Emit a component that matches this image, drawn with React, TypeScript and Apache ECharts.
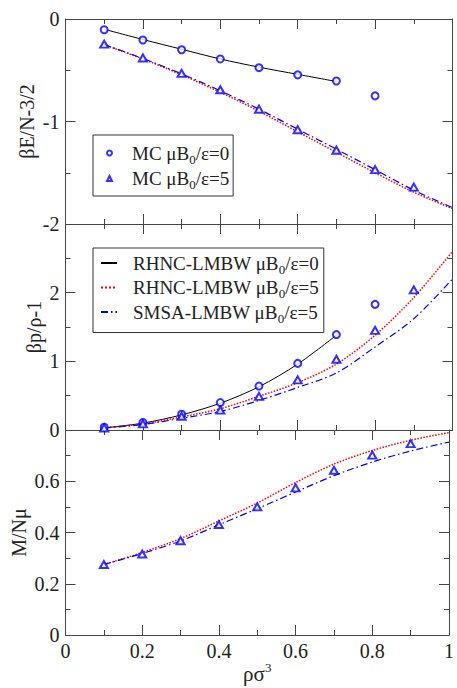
import React, { useEffect, useRef } from 'react';
import * as echarts from 'echarts';

// x positions (rho sigma^3)
const xs = [0.1, 0.2, 0.3, 0.4, 0.5, 0.6, 0.7, 0.8, 0.9, 1.0];

// Panel 1: beta E / N - 3/2
const topRhnc0 = [-0.10, -0.20, -0.295, -0.39, -0.47, -0.54, -0.61];
const topRhnc5 = [-0.25, -0.39, -0.545, -0.715, -0.90, -1.10, -1.30, -1.50, -1.69, -1.85];
const topSmsa5 = [-0.25, -0.385, -0.535, -0.70, -0.88, -1.075, -1.27, -1.47, -1.67, -1.84];
const topMc0 = [-0.105, -0.205, -0.30, -0.39, -0.475, -0.545, -0.605, -0.75];
const topMc5 = [-0.245, -0.38, -0.53, -0.69, -0.88, -1.08, -1.28, -1.47, -1.64];

// Panel 2: beta p / rho - 1
const midRhnc0 = [0.03, 0.10, 0.22, 0.39, 0.63, 0.96, 1.38];
const midRhnc5 = [0.03, 0.09, 0.19, 0.31, 0.49, 0.69, 0.96, 1.38, 1.93, 2.60];
const midSmsa5 = [0.03, 0.08, 0.17, 0.27, 0.43, 0.62, 0.83, 1.21, 1.62, 2.20];
const midMc0 = [0.04, 0.11, 0.23, 0.40, 0.64, 0.97, 1.39, 1.83];
const midMc5 = [0.03, 0.09, 0.20, 0.29, 0.49, 0.73, 1.03, 1.45, 2.04];

// Panel 3: M / N mu
const botRhnc5 = [0.275, 0.322, 0.376, 0.445, 0.515, 0.595, 0.667, 0.72, 0.76, 0.79];
const botSmsa5 = [0.275, 0.318, 0.367, 0.43, 0.493, 0.558, 0.622, 0.675, 0.718, 0.753];
const botMc5 = [0.275, 0.316, 0.368, 0.431, 0.50, 0.574, 0.643, 0.702, 0.747];

// Tick labels
const xTickLabels = ['0', '0.2', '0.4', '0.6', '0.8', '1'];
const topYLabels = ['-2', '-1', '0'];
const midYLabels = ['0', '1', '2', ''];
const botYLabels = ['0', '0.2', '0.4', '0.6', ''];

// Axis titles
const yTitles = ['βE/N-3/2', 'βp/ρ-1', 'M/Nμ'];

const NAME_MC0 = 'MC μB0/ε=0';
const NAME_MC5 = 'MC μB0/ε=5';
const NAME_R0 = 'RHNC-LMBW μB0/ε=0';
const NAME_R5 = 'RHNC-LMBW μB0/ε=5';
const NAME_S5 = 'SMSA-LMBW μB0/ε=5';

const FONT = 'Liberation Serif';
const AX = '#444';
const BLUE = '#0000ff';
const RED = '#ff0000';

const pairs = (ys: number[]) => ys.map((y, i) => [xs[i], y]);

export default function App() {
  const ref = useRef<HTMLDivElement>(null);
  useEffect(() => {
    const chart = echarts.init(ref.current!, null, { renderer: 'svg' });

    const grids = [
      { left: 65.5, width: 387, top: 19, height: 205 },
      { left: 65.5, width: 387, top: 224, height: 206 },
      { left: 65.5, width: 387, top: 430, height: 205 },
    ];

    const xAx = (g: number, position: string, showLabel: boolean) => ({
      type: 'value',
      gridIndex: g,
      position,
      min: 0,
      max: 1,
      interval: 0.2,
      axisLine: { show: true, onZero: false, lineStyle: { color: AX, width: 1 } },
      axisTick: { show: true, inside: true, length: 10, lineStyle: { color: AX } },
      minorTick: { show: true, splitNumber: 2, length: 5, lineStyle: { color: AX } },
      splitLine: { show: false },
      minorSplitLine: { show: false },
      axisLabel: {
        show: showLabel,
        margin: 6,
        fontFamily: FONT,
        fontSize: 20,
        color: '#222',
        formatter: (v: number) => xTickLabels[Math.round(v / 0.2)] ?? '',
      },
      ...(showLabel
        ? {
            name: 'ρσ{p|3}',
            nameLocation: 'middle',
            nameGap: 26,
            nameMoveOverlap: false,
            nameTextStyle: {
              fontFamily: FONT,
              fontSize: 21,
              color: '#222',
              rich: { p: { fontFamily: FONT, fontSize: 13, color: '#222', padding: [0, 0, 12, 0] } },
            },
          }
        : {}),
    });

    const yAx = (
      g: number,
      position: string,
      min: number,
      max: number,
      interval: number,
      labels: string[] | null
    ) => ({
      type: 'value',
      gridIndex: g,
      position,
      min,
      max,
      interval,
      axisLine: { show: true, onZero: false, lineStyle: { color: AX, width: 1 } },
      axisTick: { show: true, inside: true, length: 10, lineStyle: { color: AX } },
      minorTick: { show: true, splitNumber: 2, length: 5, lineStyle: { color: AX } },
      splitLine: { show: false },
      minorSplitLine: { show: false },
      axisLabel: {
        show: !!labels,
        margin: 6,
        fontFamily: FONT,
        fontSize: 20,
        color: '#222',
        formatter: (v: number) => (labels ? labels[Math.round((v - min) / interval)] ?? '' : ''),
      },
    });

    const lineS = (name: string, g: number, ys: number[], color: string, type: any, width: number) => ({
      name,
      type: 'line',
      xAxisIndex: g,
      yAxisIndex: g,
      data: pairs(ys),
      smooth: 0.3,
      symbol: 'none',
      showSymbol: false,
      lineStyle: { color, type, width },
      itemStyle: { color },
      z: 2,
    });

    const scatS = (name: string, g: number, ys: number[], symbol: string, size: any) => ({
      name,
      type: 'scatter',
      xAxisIndex: g,
      yAxisIndex: g,
      data: pairs(ys),
      symbol,
      symbolSize: size,
      itemStyle: { color: BLUE, borderColor: BLUE, borderWidth: 1 },
      z: 3,
    });

    const DASHDOT = [7, 3, 1.5, 3];

    const legendText = {
      fontFamily: FONT,
      fontSize: 19,
      lineHeight: 24,
      color: '#222',
      rich: {
        s: { fontFamily: FONT, fontSize: 13, color: '#222', padding: [12, 0, 0, 0] },
      },
    };
    const fmt = (n: string) => n.replace('B0', 'B{s|0}');

    // y-axis titles, centred on each panel
    const titleX = [27, 34, 19];
    const graphic = yTitles.map((t, i) => ({
      type: 'text',
      x: titleX[i],
      y: grids[i].top + grids[i].height / 2,
      rotation: Math.PI / 2,
      style: {
        text: t,
        fontFamily: FONT,
        fontSize: 20,
        fill: '#222',
        align: 'center',
        verticalAlign: 'middle',
      },
    }));

    const option: any = {
      animation: false,
      backgroundColor: '#fff',
      grid: grids,
      graphic,
      xAxis: [
        xAx(0, 'bottom', false),
        xAx(1, 'bottom', false),
        xAx(2, 'bottom', true),
        xAx(0, 'top', false),
        xAx(1, 'top', false),
        xAx(2, 'top', false),
      ],
      yAxis: [
        yAx(0, 'left', -2, 0, 1, topYLabels),
        yAx(1, 'left', 0, 3, 1, midYLabels),
        yAx(2, 'left', 0, 0.8, 0.2, botYLabels),
        yAx(0, 'right', -2, 0, 1, null),
        yAx(1, 'right', 0, 3, 1, null),
        yAx(2, 'right', 0, 0.8, 0.2, null),
      ],
      legend: [
        {
          data: [
            { name: NAME_MC0, icon: 'emptyCircle' },
            { name: NAME_MC5, icon: 'emptyTriangle' },
          ],
          orient: 'vertical',
          left: 93,
          top: 135,
          padding: [6, 4, 5, 13],
          itemGap: 1,
          itemWidth: 5,
          itemHeight: 5,
          borderColor: '#333',
          borderWidth: 1,
          selectedMode: false,
          formatter: fmt,
          textStyle: { ...legendText, padding: [0, 0, 0, 15] },
        },
        {
          data: [NAME_R0, NAME_R5, NAME_S5],
          orient: 'vertical',
          left: 93,
          top: 248,
          padding: [3, 5, 8, 7],
          itemGap: 0,
          itemWidth: 16,
          itemHeight: 8,
          borderColor: '#333',
          borderWidth: 1,
          selectedMode: false,
          itemStyle: { opacity: 0 },
          formatter: fmt,
          textStyle: { ...legendText, padding: [0, 0, 0, 11] },
        },
      ],
      series: [
        lineS(NAME_R0, 0, topRhnc0, '#000', 'solid', 1),
        lineS(NAME_R5, 0, topRhnc5, RED, 'dotted', 1.5),
        lineS(NAME_S5, 0, topSmsa5, BLUE, DASHDOT, 1.2),
        scatS(NAME_MC0, 0, topMc0, 'emptyCircle', 7),
        scatS(NAME_MC5, 0, topMc5, 'emptyTriangle', [8, 7]),

        lineS(NAME_R0, 1, midRhnc0, '#000', 'solid', 1),
        lineS(NAME_R5, 1, midRhnc5, RED, 'dotted', 1.5),
        lineS(NAME_S5, 1, midSmsa5, BLUE, DASHDOT, 1.2),
        scatS(NAME_MC0, 1, midMc0, 'emptyCircle', 7),
        scatS(NAME_MC5, 1, midMc5, 'emptyTriangle', [8, 7]),

        lineS(NAME_R5, 2, botRhnc5, RED, 'dotted', 1.5),
        lineS(NAME_S5, 2, botSmsa5, BLUE, DASHDOT, 1.2),
        scatS(NAME_MC5, 2, botMc5, 'emptyTriangle', [8, 7]),
      ],
    };

    chart.setOption(option);
    return () => chart.dispose();
  }, []);

  return (
    <div
      ref={ref}
      style={{ position: 'fixed', left: 0, top: 0, width: 457, height: 688, background: '#fff' }}
    />
  );
}
